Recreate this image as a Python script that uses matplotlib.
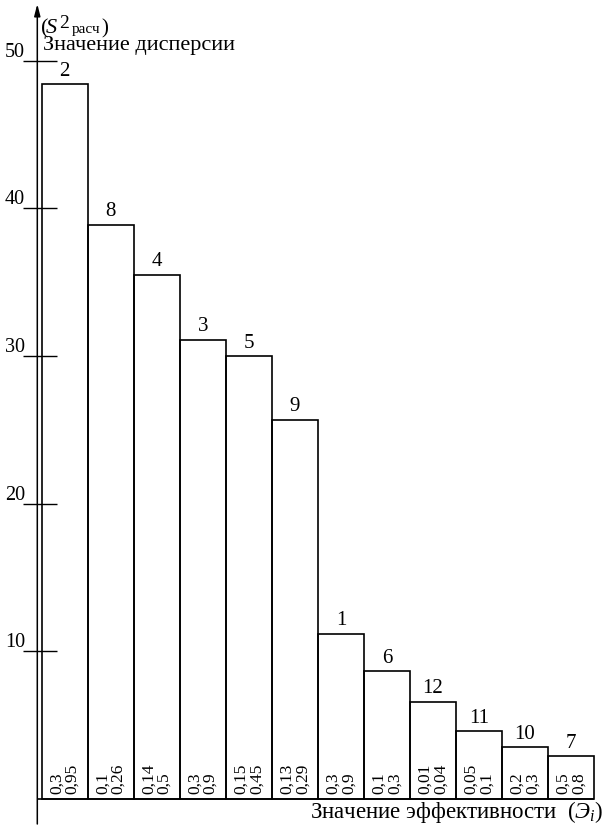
import numpy as np
import matplotlib.pyplot as plt

plt.rcParams['font.family'] = ['Liberation Serif', 'DejaVu Serif']
plt.rcParams['mathtext.fontset'] = 'custom'
plt.rcParams['mathtext.rm'] = 'Liberation Serif'
plt.rcParams['mathtext.it'] = 'Liberation Serif:italic'

# variant numbers, dispersion values and efficiency ranges
numbers = ['2', '8', '4', '3', '5', '9', '1', '6', '12', '11', '10', '7']
values = [48.4, 38.9, 35.5, 31.1, 30.0, 25.7, 11.2, 8.65, 6.6, 4.6, 3.5, 2.9]
eff_low = ['0,3', '0,1', '0,14', '0,3', '0,15', '0,13', '0,3', '0,1', '0,01', '0,05', '0,2', '0,5']
eff_high = ['0,95', '0,26', '0,5', '0,9', '0,45', '0,29', '0,9', '0,3', '0,04', '0,1', '0,3', '0,8']
yticks = [10, 20, 30, 40, 50]

W, H = 608, 830
fig = plt.figure(figsize=(W / 100, H / 100), dpi=100)
ax = fig.add_axes([0, 0, 1, 1])
ax.axis('off')

# pixel layout: bars 46 px wide starting at x=41.7, zero at y=799, 50 at y=60.7
bar_px = 46.03
x0_px = 41.7
base_px = 799
k = (base_px - 60.7) / 50
ax.set_xlim(-x0_px / bar_px, (W - x0_px) / bar_px)
ax.set_ylim(-(H - base_px) / k, base_px / k)


def dx(px):
    return px / bar_px


def dy(px):
    return px / k


def fpos(x, y):
    return x / W, 1 - y / H


xs = np.arange(len(values))
ax.bar(xs, values, width=1, align='edge', fill=False, edgecolor='black', lw=1.2)

# y axis with arrow
axis_x = dx(37.3 - x0_px)
ax.annotate('', xy=(axis_x, dy(base_px - 4)), xytext=(axis_x, -dy(25)),
            arrowprops=dict(arrowstyle='-|>,head_length=0.7,head_width=0.18',
                            color='black', lw=1.1, shrinkA=0, shrinkB=0))
ax.hlines(0, axis_x, len(values), color='black', lw=1.2)
ax.hlines(yticks, dx(23 - x0_px), dx(57 - x0_px), color='black', lw=1)
for t in yticks:
    ax.text(dx(25 - x0_px), t + dy(4), str(t), ha='right', va='baseline', fontsize=14.5)

for x, v, n, lo, hi in zip(xs, values, numbers, eff_low, eff_high):
    ax.text(x + 0.5, v + dy(8.5), n, ha='center', va='baseline', fontsize=15)
    ax.text(x + 0.5, dy(5), f'{lo}\n{hi}', rotation=90, ha='center', va='bottom',
            multialignment='left', fontsize=12.5, linespacing=0.95)

# y label
fig.text(*fpos(41, 33), '(', fontsize=16, va='baseline')
fig.text(*fpos(46, 33), 'S', fontsize=16, style='italic', va='baseline')
fig.text(*fpos(59, 28), '2', fontsize=14, va='baseline')
fig.text(*fpos(72, 33), 'расч', fontsize=11, va='baseline')
fig.text(*fpos(101, 33), ')', fontsize=15, va='baseline')
fig.text(*fpos(43, 50), 'Значение дисперсии', fontsize=16, va='baseline')

# x label
fig.text(*fpos(603, 818), 'Значение эффективности  $(Э_{i})$', fontsize=16.5,
         ha='right', va='baseline')

fig.savefig('out.png', dpi=100)
